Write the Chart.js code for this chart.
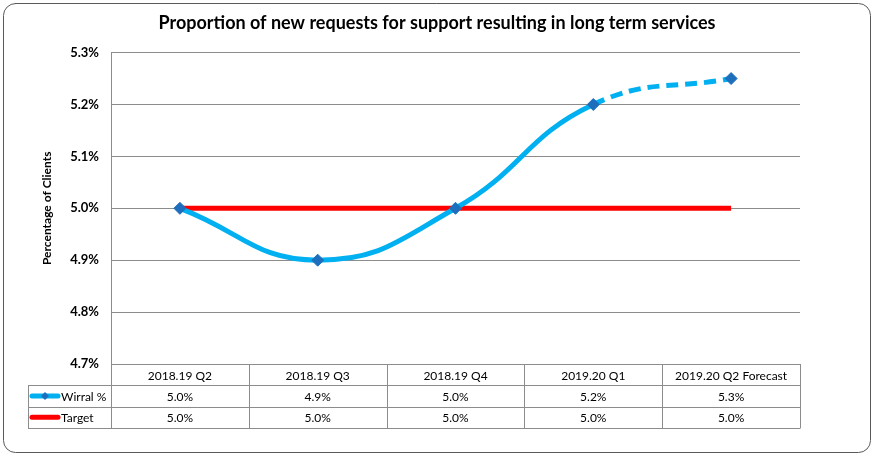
<!DOCTYPE html>
<html lang="en">
<head>
<meta charset="UTF-8">
<title>Proportion of new requests for support resulting in long term services</title>
<script src="https://cdn.jsdelivr.net/npm/chart.js"></script>
<style>
    html, body { margin: 0; padding: 0; background: #fff; }
    #wrap { width: 874px; height: 456px; }
</style>
</head>
<body>
<div id="wrap"><canvas id="chart" width="874" height="456"></canvas></div>
<script>
const categories = ['2018.19 Q2', '2018.19 Q3', '2018.19 Q4', '2019.20 Q1', '2019.20 Q2 Forecast'];
const wirral = [5.0, 4.9, 5.0, 5.2, 5.25];
const target = [5.0, 5.0, 5.0, 5.0, 5.0];
const yTicks = [4.7, 4.8, 4.9, 5.0, 5.1, 5.2, 5.3];
const seriesNames = ['Wirral %', 'Target'];

const FONT = 'Lato, "Open Sans", sans-serif';
const BLUE = '#00B0F0';
const MARKER = '#1E6EBE';
const RED = '#FF0000';
const GRID = '#8c8c8c';

// draws the data table under the plot plus the rounded outer frame
const tablePlugin = {
    id: 'dataTable',
    afterDraw(chart) {
        const { ctx, chartArea } = chart;
        const x = chart.scales.x;
        const n = categories.length;
        const colW = (chartArea.right - chartArea.left) / n;
        const rowH = 21.3;
        const top = chartArea.bottom;
        const legLeft = 28;
        const rows = [wirral, target];

        ctx.save();
        ctx.strokeStyle = GRID;
        ctx.lineWidth = 1;
        ctx.beginPath();
        // header row top
        ctx.moveTo(chartArea.left, top + 0.5);
        ctx.lineTo(chartArea.right, top + 0.5);
        for (let r = 1; r <= 3; r++) {
            const y = Math.round(top + r * rowH) + 0.5;
            ctx.moveTo(legLeft, y);
            ctx.lineTo(chartArea.right, y);
        }
        const bottom = Math.round(top + 3 * rowH) + 0.5;
        ctx.moveTo(legLeft + 0.5, Math.round(top + rowH) + 0.5);
        ctx.lineTo(legLeft + 0.5, bottom);
        for (let i = 0; i <= n; i++) {
            const vx = Math.round(chartArea.left + i * colW) + 0.5;
            ctx.moveTo(vx, top);
            ctx.lineTo(vx, bottom);
        }
        ctx.stroke();

        ctx.fillStyle = '#000';
        ctx.font = '12px ' + FONT;
        ctx.textAlign = 'center';
        ctx.textBaseline = 'middle';
        categories.forEach((c, i) => {
            ctx.fillText(c, x.getPixelForValue(i), top + rowH / 2 + 1);
        });
        rows.forEach((vals, r) => {
            const cy = top + rowH * (r + 1.5) + 1;
            vals.forEach((v, i) => {
                ctx.fillText(v.toFixed(1) + '%', x.getPixelForValue(i), cy);
            });
        });

        // legend keys
        ctx.textAlign = 'left';
        seriesNames.forEach((name, r) => {
            const cy = top + rowH * (r + 1.5);
            ctx.lineCap = 'round';
            ctx.lineWidth = 5;
            ctx.strokeStyle = r === 0 ? BLUE : RED;
            ctx.beginPath();
            ctx.moveTo(32, cy);
            ctx.lineTo(58, cy);
            ctx.stroke();
            if (r === 0) {
                ctx.fillStyle = MARKER;
                ctx.beginPath();
                ctx.moveTo(45, cy - 4);
                ctx.lineTo(49, cy);
                ctx.lineTo(45, cy + 4);
                ctx.lineTo(41, cy);
                ctx.closePath();
                ctx.fill();
            }
            ctx.fillStyle = '#000';
            ctx.fillText(name, 61, cy + 1);
        });

        // outer frame
        ctx.strokeStyle = '#595959';
        ctx.lineWidth = 1;
        ctx.beginPath();
        ctx.roundRect(3.5, 3.5, 867, 449, 12);
        ctx.stroke();
        ctx.restore();
    }
};

new Chart(document.getElementById('chart'), {
    type: 'line',
    data: {
        labels: categories,
        datasets: [
            {
                label: seriesNames[0],
                data: wirral,
                borderColor: BLUE,
                borderWidth: 5,
                tension: 0.45,
                pointStyle: 'rectRot',
                pointRadius: 6,
                pointBackgroundColor: MARKER,
                pointBorderColor: MARKER,
                pointBorderWidth: 1,
                segment: {
                    borderDash: c => c.p1DataIndex === categories.length - 1 ? [12, 7] : undefined
                }
            },
            {
                label: seriesNames[1],
                data: target,
                borderColor: RED,
                borderWidth: 5,
                tension: 0,
                pointRadius: 0
            }
        ]
    },
    options: {
        responsive: false,
        animation: false,
        layout: { padding: { left: 0, right: 0, top: 0, bottom: 92 } },
        plugins: {
            legend: { display: false },
            tooltip: { enabled: false },
            title: {
                display: true,
                text: 'Proportion of new requests for support resulting in long term services',
                color: '#000',
                font: { family: FONT, size: 18, weight: 'bold' },
                padding: { top: 12, bottom: 19 }
            }
        },
        scales: {
            x: {
                type: 'category',
                offset: true,
                display: false
            },
            y: {
                min: 4.7,
                max: 5.3,
                afterBuildTicks: s => { s.ticks = yTicks.map(v => ({ value: v })); },
                afterFit: s => { s.width = 111; },
                grid: { color: GRID, drawTicks: false },
                border: { color: GRID },
                ticks: {
                    color: '#000',
                    padding: 12,
                    font: { family: FONT, size: 13, weight: 'bold' },
                    callback: v => v.toFixed(1) + '%'
                },
                title: {
                    display: true,
                    text: 'Percentage of Clients',
                    color: '#000',
                    font: { family: FONT, size: 12, weight: 'bold' },
                    padding: { top: 40, bottom: 0 }
                }
            },
            // empty right-hand axis that only reserves the margin right of the plot
            yRight: {
                position: 'right',
                min: 4.7,
                max: 5.3,
                afterFit: s => { s.width = 74; },
                grid: { display: false },
                border: { display: false },
                ticks: { display: false }
            }
        }
    },
    plugins: [tablePlugin]
});
</script>
</body>
</html>
